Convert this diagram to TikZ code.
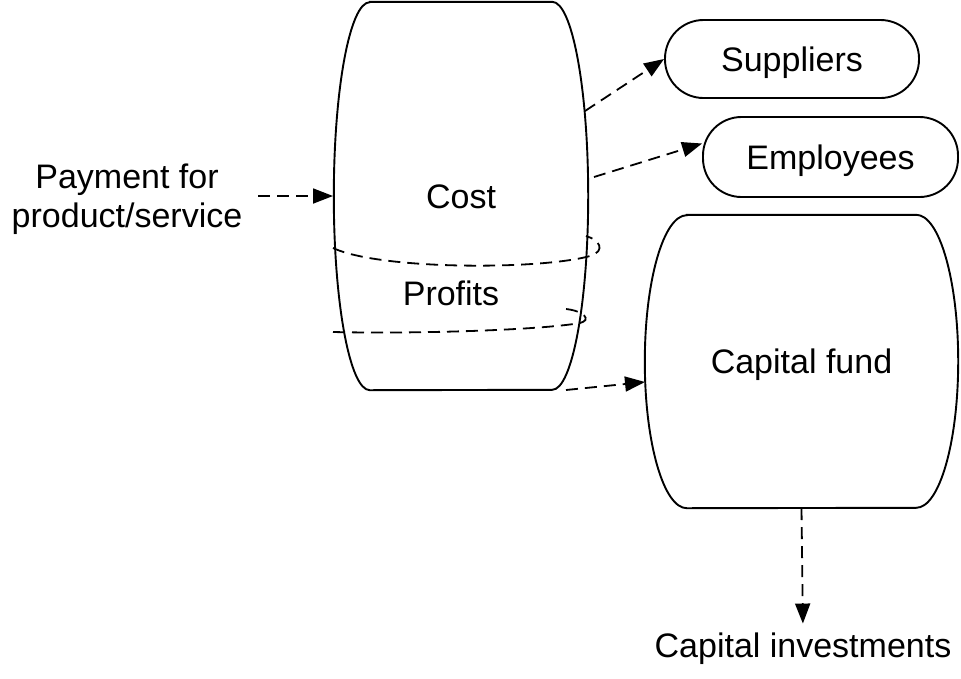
\documentclass[tikz,border=0pt]{standalone}
\usepackage{fontspec}
\setmainfont{Liberation Sans}
\usetikzlibrary{arrows.meta,calc}
\begin{document}
\begin{tikzpicture}[x=1pt,y=1pt,
  lbl/.style={font=\fontsize{34}{39}\selectfont, inner sep=0pt, text height=24.5pt, text depth=0pt},
  pill/.style={lbl, draw, line width=1.9pt, rounded corners=38.5pt},
  flow/.style={line width=1.8pt, dash pattern=on 12pt off 7pt, -{Triangle[length=20pt,width=15pt]}},
  ring/.style={line width=1.8pt, dash pattern=on 12pt off 7pt},
  outline/.style={line width=1.9pt},
]
\useasboundingbox (0,0) rectangle (961,-678);

% Cost barrel
\node[lbl, minimum width=182pt, minimum height=388pt] (cost) at (461,-196) {Cost};
\draw[outline] (cost.north west) -- (cost.north east)
  arc[start angle=90, end angle=-90, x radius=36pt, y radius=194pt]
  -- (cost.south west)
  arc[start angle=270, end angle=90, x radius=36pt, y radius=194pt] -- cycle;
\node[lbl] (prof) at (451,-293.5) {Profits};

% dashed rings around the barrel
\draw[ring] (333,-248) .. controls (380,-270) and (540,-270) .. (590,-256)
  .. controls (606,-251) and (600,-240) .. (586,-236);
\draw[ring] (333,-332) .. controls (420,-334) and (540,-330) .. (580,-323)
  .. controls (592,-320) and (584,-311) .. (566,-309);

% Payment
\node[font=\fontsize{34}{39}\selectfont, inner sep=0pt, align=center, anchor=north] (pay) at (127,-164) {Payment for\\product/service};
\coordinate (pay-out) at (258,-196);
\coordinate (cost-in) at (333,-196);
\draw[flow] (pay-out) -- (cost-in);

% Suppliers / Employees
\node[pill, minimum width=254pt, minimum height=78pt] (sup) at (792,-59) {Suppliers};
\node[pill, minimum width=255pt, minimum height=80pt] (emp) at (830.5,-157) {Employees};
\coordinate (c-sup) at (585,-111);
\coordinate (c-emp) at (594,-177);
\draw[flow] (c-sup) -- (sup.west);
\draw[flow] (c-emp) -- (emp.174);

% Capital fund barrel
\node[lbl, minimum width=229pt, minimum height=293pt] (capf) at (801.5,-361.5) {Capital fund};
\draw[outline] (capf.north west) -- (capf.north east)
  arc[start angle=90, end angle=-90, x radius=42pt, y radius=146.5pt]
  -- (capf.south west)
  arc[start angle=270, end angle=90, x radius=42pt, y radius=146.5pt] -- cycle;
\coordinate (c-cap) at (566,-390);
\coordinate (capf-in) at (645,-382);
\draw[flow] (c-cap) -- (capf-in);

% Capital investments
\node[lbl] (inv) at (803,-645) {Capital investments};
\draw[flow, shorten >=9pt] (capf.south) -- (inv.north);
\end{tikzpicture}
\end{document}
